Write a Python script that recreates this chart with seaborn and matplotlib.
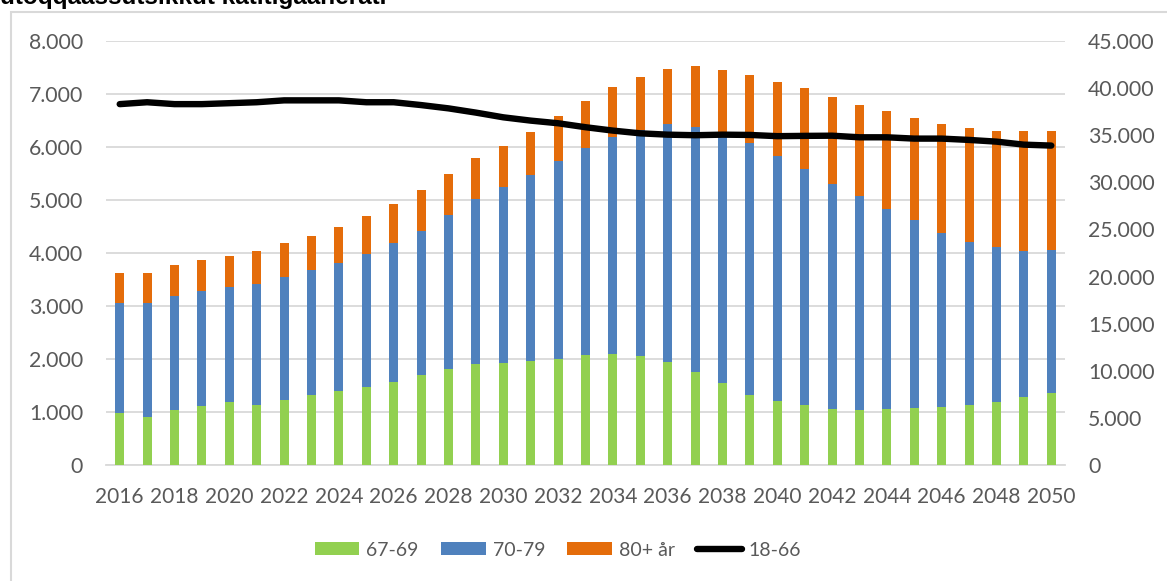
import numpy as np
import pandas as pd
import matplotlib
matplotlib.use("Agg")
import matplotlib.pyplot as plt
from matplotlib.patches import Patch, Rectangle
from matplotlib.lines import Line2D
from matplotlib.ticker import FuncFormatter, FixedLocator
import seaborn as sns

# ---- data ----
years = list(range(2016, 2051))
age_67_69 = [990, 910, 1040, 1110, 1180, 1130, 1230, 1330, 1400, 1470,
             1570, 1690, 1810, 1910, 1930, 1960, 2000, 2080, 2100, 2050,
             1950, 1760, 1540, 1320, 1210, 1130, 1060, 1040, 1060, 1080,
             1100, 1130, 1180, 1280, 1350]
age_70_79 = [2070, 2150, 2150, 2170, 2180, 2280, 2320, 2350, 2420, 2520,
             2610, 2730, 2900, 3100, 3320, 3510, 3740, 3900, 4090, 4270,
             4480, 4620, 4690, 4750, 4620, 4460, 4240, 4040, 3770, 3540,
             3270, 3080, 2930, 2760, 2710]
age_80plus = [560, 560, 580, 590, 580, 630, 630, 650, 680, 700,
              750, 760, 780, 780, 770, 810, 840, 890, 940, 1010,
              1040, 1140, 1220, 1280, 1400, 1520, 1640, 1710, 1840, 1930,
              2060, 2150, 2200, 2270, 2250]
age_18_66 = [38300, 38500, 38300, 38300, 38400, 38500, 38700, 38700, 38700, 38500,
             38500, 38200, 37850, 37400, 36900, 36550, 36270, 35850, 35490, 35200,
             35060, 35000, 35060, 35030, 34900, 34930, 34950, 34780, 34780, 34640,
             34640, 34500, 34320, 34000, 33900]
series_labels = ["67-69", "70-79", "80+ år", "18-66"]
title_text = "utoqqaassutsikkut katitigaanerat."

df = pd.DataFrame({"year": years, "g": age_67_69, "b": age_70_79,
                   "o": age_80plus, "line": age_18_66})
df["top_g"] = df["g"]
df["top_b"] = df["g"] + df["b"]
df["top_o"] = df["g"] + df["b"] + df["o"]

GREEN = "#92D050"
BLUE = "#4F81BD"
ORANGE = "#E46C0A"
GRID = "#D9D9D9"
TXT = "#595959"

sns.set_style("white")
plt.rcParams["font.family"] = ["Lato", "DejaVu Sans"]

fig = plt.figure(figsize=(11.67, 5.81), dpi=100)
ax = fig.add_axes([106/1167, 116/581, (1065-106)/1167, (465-41)/581])

for col, colr in [("top_o", ORANGE), ("top_b", BLUE), ("top_g", GREEN)]:
    sns.barplot(data=df, x="year", y=col, native_scale=True, color=colr,
                width=0.33, saturation=1, ax=ax, errorbar=None, zorder=3,
                linewidth=0)

ax2 = ax.twinx()
sns.lineplot(data=df, x="year", y="line", color="black", linewidth=4.6,
             ax=ax2, zorder=5, solid_capstyle="round")

fmt = FuncFormatter(lambda v, p: f"{int(round(v)):,}".replace(",", "."))
ax.set_ylim(0, 8000)
ax.yaxis.set_major_locator(FixedLocator(np.arange(0, 8001, 1000)))
ax.yaxis.set_major_formatter(fmt)
ax2.set_ylim(0, 45000)
ax2.yaxis.set_major_locator(FixedLocator(np.arange(0, 45001, 5000)))
ax2.yaxis.set_major_formatter(fmt)

ax.set_xlim(2015.5, 2050.5)
ax.set_xticks(years[::2])
ax.set_xticklabels([str(y) for y in years[::2]])

ax.grid(axis="y", color=GRID, linewidth=1.3, zorder=0)
ax.set_axisbelow(True)
for a in (ax, ax2):
    for s in a.spines.values():
        s.set_visible(False)
    a.set_xlabel("")
    a.set_ylabel("")
ax.spines["bottom"].set_visible(True)
ax.spines["bottom"].set_color(GRID)
ax.spines["bottom"].set_linewidth(1.3)

ax.tick_params(axis="y", length=0, labelsize=15.3, labelcolor=TXT, pad=16.5)
ax.tick_params(axis="x", length=0, labelsize=15, labelcolor=TXT, pad=16)
ax2.yaxis.set_tick_params(which="both", length=0, labelsize=15.3,
                          labelcolor=TXT, pad=16.5)
ax2.set_zorder(ax.get_zorder() + 1)
ax2.patch.set_visible(False)

# legend
handles = [Patch(facecolor=GREEN, edgecolor="none"),
           Patch(facecolor=BLUE, edgecolor="none"),
           Patch(facecolor=ORANGE, edgecolor="none"),
           Line2D([0], [0], color="black", linewidth=4.6, solid_capstyle="round")]
fig.legend(handles, series_labels, loc="center", bbox_to_anchor=(558/1167, 1 - 550/581),
           ncol=4, frameon=False, fontsize=14, labelcolor=TXT,
           handlelength=2.3, handleheight=0.6, handletextpad=0.35,
           columnspacing=1.15)

# chart border
fig.patches.append(Rectangle((11/1167, -0.05), 1.2, 1 - 12/581 + 0.05,
                             transform=fig.transFigure, fill=False,
                             edgecolor=GRID, linewidth=1.5))

# title (cut at the top edge, as in the source image)
fig.text(0, 1 - 4/581, title_text, ha="left", va="baseline", fontsize=17.5,
         fontweight="bold", family=["Liberation Sans", "DejaVu Sans"], color="black")

fig.savefig("out.png", dpi=100)
